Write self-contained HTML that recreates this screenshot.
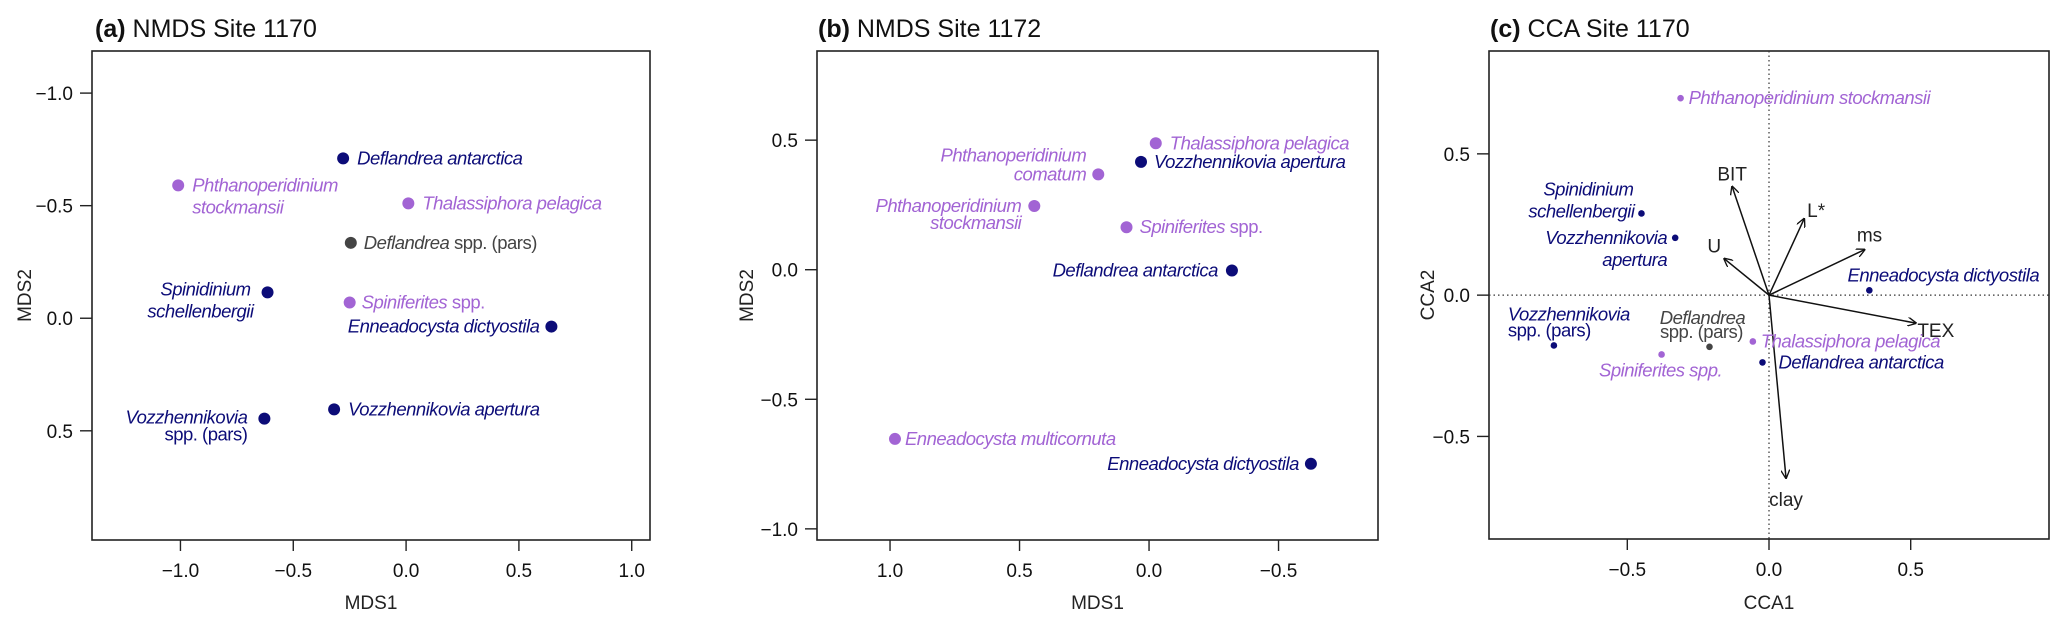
<!DOCTYPE html>
<html><head><meta charset="utf-8"><style>
html,body{margin:0;padding:0;background:#fff}
svg{display:block;font-family:"Liberation Sans",sans-serif}
.sp{font-style:italic;font-size:18.5px;letter-spacing:-0.5px}
.tk{font-size:19px;fill:#111}
.ax{font-size:19px;fill:#222}
.tt{font-size:25px;fill:#111}
</style></head><body>
<svg id="chart" width="2067" height="628" viewBox="0 0 2067 628" xmlns="http://www.w3.org/2000/svg">
<defs><marker id="ah" viewBox="0 0 10 10" refX="9" refY="5" markerWidth="9" markerHeight="9" orient="auto" markerUnits="userSpaceOnUse"><path d="M0,0 L10,5 L0,10" fill="none" stroke="#111" stroke-width="1.5"/></marker></defs>
</svg>
<script>
// ---- Panel (a) NMDS Site 1170 ----
const aNames = ["Deflandrea antarctica","Phthanoperidinium stockmansii","Thalassiphora pelagica","Deflandrea spp. (pars)","Spinidinium schellenbergii","Spiniferites spp.","Enneadocysta dictyostila","Vozzhennikovia apertura","Vozzhennikovia spp. (pars)"];
const aMDS1 = [-0.279,-1.01,0.01,-0.245,-0.614,-0.25,0.644,-0.319,-0.628];
const aMDS2 = [-0.71,-0.59,-0.51,-0.335,-0.115,-0.07,0.037,0.405,0.446];
const aXTicks = [-1.0,-0.5,0.0,0.5,1.0];
const aYTicks = [-1.0,-0.5,0.0,0.5];
// ---- Panel (b) NMDS Site 1172 ----
const bNames = ["Thalassiphora pelagica","Vozzhennikovia apertura","Phthanoperidinium comatum","Phthanoperidinium stockmansii","Spiniferites spp.","Deflandrea antarctica","Enneadocysta multicornuta","Enneadocysta dictyostila"];
const bMDS1 = [-0.026,0.031,0.196,0.443,0.087,-0.32,0.981,-0.625];
const bMDS2 = [0.488,0.416,0.368,0.246,0.164,-0.003,-0.653,-0.749];
const bXTicks = [1.0,0.5,0.0,-0.5];
const bYTicks = [0.5,0.0,-0.5,-1.0];
// ---- Panel (c) CCA Site 1170 ----
const cNames = ["Phthanoperidinium stockmansii","Spinidinium schellenbergii","Vozzhennikovia apertura","Enneadocysta dictyostila","Vozzhennikovia spp. (pars)","Spiniferites spp.","Deflandrea spp. (pars)","Thalassiphora pelagica","Deflandrea antarctica"];
const cCCA1 = [-0.312,-0.45,-0.331,0.354,-0.759,-0.379,-0.21,-0.057,-0.023];
const cCCA2 = [0.697,0.289,0.203,0.017,-0.178,-0.21,-0.183,-0.164,-0.238];
const envNames = ["BIT","L*","ms","U","TEX","clay"];
const envCCA1 = [-0.13,0.124,0.337,-0.158,0.518,0.06];
const envCCA2 = [0.384,0.27,0.161,0.129,-0.099,-0.647];
const cXTicks = [-0.5,0.0,0.5];
const cYTicks = [0.5,0.0,-0.5];

const NAVY="#0c0c78", PURP="#a264d4", GREY="#444";
const svg=document.getElementById('chart');
const NS="http://www.w3.org/2000/svg";
function mk(tag,attrs,parent){const e=document.createElementNS(NS,tag);for(const k in attrs)e.setAttribute(k,attrs[k]);(parent||svg).appendChild(e);return e;}
function scale(d0,d1,p0,p1){return v=>p0+(v-d0)/(d1-d0)*(p1-p0);}

function frame(g,box,xs,ys,xt,yt,title,tb,xl,yl){
  const r=mk('rect',{x:box.l,y:box.t,width:box.r-box.l,height:box.b-box.t,fill:'none',stroke:'#222','stroke-width':1.6},g);
  
  
  xt.forEach(v=>{const x=xs(v);
    const l=mk('line',{x1:x,y1:box.b,x2:x,y2:box.b+11,stroke:'#222','stroke-width':1.4},g);
    
    
    const t=mk('text',{x:x,y:box.b+37,'text-anchor':'middle',class:'tk'},g);t.textContent=(v<0?'\u2212':'')+Math.abs(v).toFixed(1);
    
    
  });
  yt.forEach(v=>{const y=ys(v);
    const l=mk('line',{x1:box.l-12,y1:y,x2:box.l,y2:y,stroke:'#222','stroke-width':1.4},g);
    
    
    const t=mk('text',{x:box.l-19,y:y+7,'text-anchor':'end',class:'tk'},g);t.textContent=(v<0?'\u2212':'')+Math.abs(v).toFixed(1);
    
    
  });
  const tt=mk('text',{x:box.tx,y:37,class:'tt'},g);
  tt.innerHTML='<tspan font-weight="bold">'+tb+'</tspan> '+title;
  
  
  const xa=mk('text',{x:(box.l+box.r)/2,y:609,'text-anchor':'middle',class:'ax'},g);xa.textContent=xl;
  
  
  const yx=box.yAxX, yc=(box.t+box.b)/2;
  const ya=mk('text',{x:yx,y:yc,'text-anchor':'middle',transform:`rotate(-90 ${yx} ${yc})`,class:'ax'},g);ya.textContent=yl;
  
  
}
function label(g,x,y,color,lines){
  lines.forEach(L=>{const t=mk('text',{x:x+L[1],y:y+L[2]+6,'text-anchor':L[3],class:'sp',fill:color},g);t.innerHTML=L[0];
    
    
  });
}
const N=s=>'<tspan font-style="normal">'+s+'</tspan>';

// Panel a
(function(){
  const g=mk('g',{});
  const box={l:92,r:650,t:51,b:540,yAxX:31,tx:95};
  const xs=scale(-1.392,1.081,box.l,box.r), ys=scale(-1.187,0.985,box.t,box.b);
  frame(g,box,xs,ys,aXTicks,aYTicks,'NMDS Site 1170','(a)','MDS1','MDS2');
  const col=[NAVY,PURP,PURP,GREY,NAVY,PURP,NAVY,NAVY,NAVY];
  const labs=[
    [['Deflandrea antarctica',14,0,'start']],
    [['Phthanoperidinium',14,0,'start'],['stockmansii',14,22,'start']],
    [['Thalassiphora pelagica',14,0,'start']],
    [['Deflandrea'+N(' spp. (pars)'),13,0,'start']],
    [['Spinidinium',-17,-3,'end'],['schellenbergii',-14,19,'end']],
    [['Spiniferites'+N(' spp.'),12,0,'start']],
    [['Enneadocysta dictyostila',-12,0,'end']],
    [['Vozzhennikovia apertura',14,0,'start']],
    [['Vozzhennikovia',-17,-1,'end'],[N('spp. (pars)'),-17,16,'end']]];
  aNames.forEach((n,i)=>{const x=xs(aMDS1[i]),y=ys(aMDS2[i]);
    const c=mk('circle',{cx:x,cy:y,r:6,fill:col[i]},g);
    
    
    label(g,x,y,col[i],labs[i]);});
})();
// Panel b
(function(){
  const g=mk('g',{});
  const box={l:817,r:1378,t:51,b:540,yAxX:753,tx:818};
  const xs=scale(1.282,-0.884,box.l,box.r), ys=scale(0.844,-1.043,box.t,box.b);
  frame(g,box,xs,ys,bXTicks,bYTicks,'NMDS Site 1172','(b)','MDS1','MDS2');
  const col=[PURP,NAVY,PURP,PURP,PURP,NAVY,PURP,NAVY];
  const labs=[
    [['Thalassiphora pelagica',14,0,'start']],
    [['Vozzhennikovia apertura',13,0,'start']],
    [['Phthanoperidinium',-12,-19,'end'],['comatum',-12,0,'end']],
    [['Phthanoperidinium',-13,0,'end'],['stockmansii',-13,17,'end']],
    [['Spiniferites'+N(' spp.'),13,0,'start']],
    [['Deflandrea antarctica',-14,0,'end']],
    [['Enneadocysta multicornuta',10,0,'start']],
    [['Enneadocysta dictyostila',-12,0,'end']]];
  bNames.forEach((n,i)=>{const x=xs(bMDS1[i]),y=ys(bMDS2[i]);
    const c=mk('circle',{cx:x,cy:y,r:6,fill:col[i]},g);
    
    
    label(g,x,y,col[i],labs[i]);});
})();
// Panel c
(function(){
  const g=mk('g',{});
  const box={l:1489,r:2049,t:51,b:539,yAxX:1434,tx:1490};
  const xs=scale(-0.988,0.988,box.l,box.r), ys=scale(0.864,-0.863,box.t,box.b);
  frame(g,box,xs,ys,cXTicks,cYTicks,'CCA Site 1170','(c)','CCA1','CCA2');
  const v=mk('line',{x1:xs(0),y1:box.t,x2:xs(0),y2:box.b,stroke:'#333','stroke-width':1.2,'stroke-dasharray':'1.5,3'},g);
  
  const h=mk('line',{x1:box.l,y1:ys(0),x2:box.r,y2:ys(0),stroke:'#333','stroke-width':1.2,'stroke-dasharray':'1.5,3'},g);
  
  const ox=xs(0),oy=ys(0);
  const lOff=[[0,-12,'middle'],[12,-8,'middle'],[5,-14,'middle'],[-10,-12,'middle'],[20,8,'middle'],[0,22,'middle']];
  envNames.forEach((n,i)=>{const x=xs(envCCA1[i]),y=ys(envCCA2[i]);
    const a=mk('line',{x1:ox,y1:oy,x2:x,y2:y,stroke:'#111','stroke-width':1.5,'marker-end':'url(#ah)'},g);
    
    
    const t=mk('text',{x:x+lOff[i][0],y:y+lOff[i][1]+6,'text-anchor':lOff[i][2],class:'ax',fill:'#111'},g);t.textContent=n;
    
    
  });
  const col=[PURP,NAVY,NAVY,NAVY,NAVY,PURP,GREY,PURP,NAVY];
  const labs=[
    [['Phthanoperidinium stockmansii',8,0,'start']],
    [['Spinidinium',-8,-24,'end'],['schellenbergii',-7,-2,'end']],
    [['Vozzhennikovia',-8,0,'end'],['apertura',-8,22,'end']],
    [['Enneadocysta dictyostila',74,-15,'middle']],
    [['Vozzhennikovia',-46,-31,'start'],[N('spp. (pars)'),-46,-15,'start']],
    [['Spiniferites spp.',-1,16,'middle']],
    [['Deflandrea',-7,-29,'middle'],[N('spp. (pars)'),-8,-15,'middle']],
    [['Thalassiphora pelagica',8,0,'start']],
    [['Deflandrea antarctica',16,0,'start']]];
  cNames.forEach((n,i)=>{const x=xs(cCCA1[i]),y=ys(cCCA2[i]);
    const c=mk('circle',{cx:x,cy:y,r:3.3,fill:col[i]},g);
    
    
    label(g,x,y,col[i],labs[i]);});
})();
</script>
</body></html>
